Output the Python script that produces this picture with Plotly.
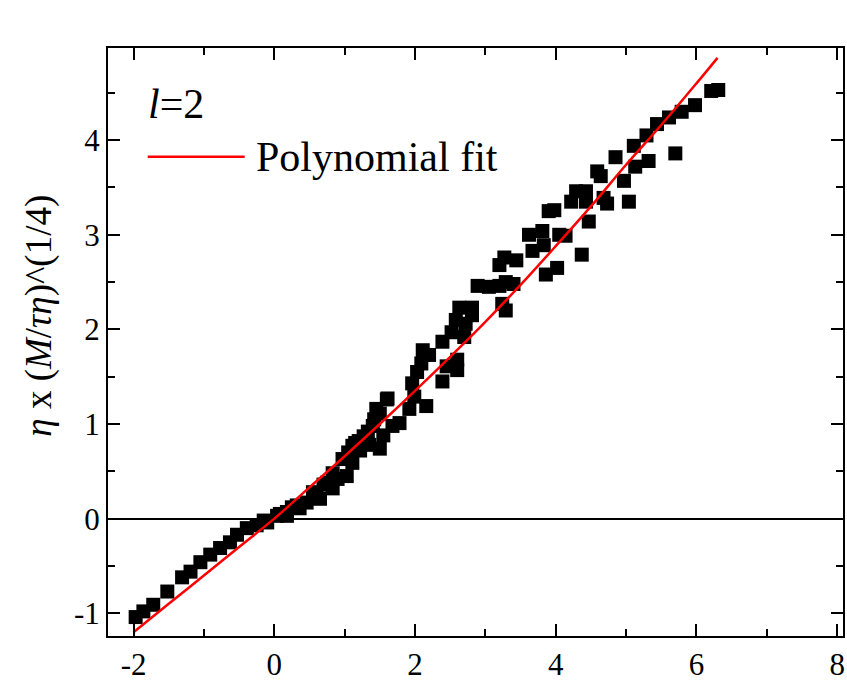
import plotly.graph_objects as go

# Scatter data
data_x = [-1.97, -1.86, -1.72, -1.52, -1.31, -1.19, -1.05, -0.91, -0.77, -0.63,
          -0.53, -0.39, -0.25, -0.10, 0.04, 0.18, 0.18, 0.32, 0.36, 0.46,
          0.60, 0.65, 0.75, 0.83, 0.83, 0.97, 1.03, 1.11, 1.11, 1.40,
          1.50, 1.68, 1.60, 1.45, 1.50, 1.61, 1.78, 1.92, 1.99, 1.96,
          2.09, 2.11, 2.16, 2.39, 2.45, 2.60, 2.60, 2.39, 2.52, 2.58,
          2.63, 2.81, 2.81, 2.70, 2.89, 3.20, 3.29, 3.24, 3.29, 3.20,
          3.27, 3.44, 3.62, 3.81, 3.67, 3.86, 3.90, 3.83, 4.05, 4.14,
          4.02, 4.37, 3.98, 4.22, 4.29, 4.43, 4.43, 4.68, 4.73, 4.47,
          4.59, 4.64, 4.85, 4.97, 5.04, 5.13, 5.11, 5.29, 5.32, 5.44,
          5.61, 5.70, 5.79, 5.98, 6.21, 6.31,
          1.20, 1.27, 1.33, 1.22, 1.35, 0.55, 0.70, 0.90, 2.03, 2.20,
          2.72, 3.05, 3.40, -0.15, 0.08, 0.25, 1.05, 1.15, 1.42, 1.55]
data_y = [-1.04, -0.98, -0.91, -0.77, -0.62, -0.56, -0.46, -0.38, -0.31, -0.25,
          -0.17, -0.10, -0.07, -0.04, 0.03, 0.07, 0.03, 0.14, 0.11, 0.17,
          0.24, 0.21, 0.38, 0.32, 0.48, 0.63, 0.45, 0.77, 0.59, 0.98,
          0.74, 0.98, 1.26, 1.16, 1.11, 1.27, 1.01, 1.16, 1.29, 1.43,
          1.64, 1.78, 1.19, 1.45, 1.61, 1.68, 1.57, 1.87, 1.97, 2.10,
          2.23, 2.23, 2.15, 1.92, 2.46, 2.46, 2.50, 2.27, 2.20, 2.68,
          2.76, 2.73, 3.00, 3.04, 2.83, 2.58, 3.25, 2.89, 3.00, 2.99,
          2.65, 2.79, 3.26, 3.35, 3.46, 3.46, 3.35, 3.39, 3.33, 3.14,
          3.67, 3.62, 3.82, 3.57, 3.35, 3.72, 3.94, 4.05, 3.78, 4.17,
          4.24, 3.86, 4.30, 4.37, 4.52, 4.53,
          0.82, 0.87, 0.92, 0.72, 0.78, 0.28, 0.36, 0.42, 1.55, 1.73,
          2.06, 2.45, 2.48, -0.02, 0.05, 0.12, 0.70, 0.80, 1.05, 0.88]

# Polynomial fit curve
fit_x = [-2.0, -1.5, -1.0, -0.5, 0.0, 0.5, 1.0, 1.5, 2.0, 2.5, 3.0, 3.5, 4.0, 4.5, 5.0, 5.5, 6.0, 6.3]
fit_y = [-1.20, -0.90, -0.60, -0.30, 0.00, 0.33, 0.66, 1.00, 1.35, 1.71, 2.08, 2.47, 2.88, 3.30, 3.74, 4.16, 4.60, 4.87]

# Tick labels
x_tickvals = [-2, 0, 2, 4, 6, 8]
x_ticktext = ["-2", "0", "2", "4", "6", "8"]
y_tickvals = [-1, 0, 1, 2, 3, 4]
y_ticktext = ["-1", "0", "1", "2", "3", "4"]

font_family = "Liberation Serif, Times New Roman, serif"

fig = go.Figure()
fig.add_trace(go.Scatter(
    x=data_x, y=data_y, mode="markers",
    marker=dict(symbol="square", size=14, color="black", line=dict(width=0)),
    showlegend=False))
fig.add_trace(go.Scatter(
    x=fit_x, y=fit_y, mode="lines",
    line=dict(color="red", width=2.5, shape="spline"),
    showlegend=False))

# Legend drawn manually
fig.add_shape(type="line", xref="paper", yref="paper",
              x0=0.054, x1=0.186, y0=0.815, y1=0.815,
              line=dict(color="red", width=2.5))
fig.add_annotation(xref="paper", yref="paper", x=0.198, y=0.815,
                   text="Polynomial fit", showarrow=False, xanchor="left", yanchor="middle",
                   font=dict(family=font_family, size=42, color="black"))
fig.add_annotation(xref="paper", yref="paper", x=0.052, y=0.905,
                   text="<i>l</i>=2", showarrow=False, xanchor="left", yanchor="middle",
                   font=dict(family=font_family, size=42, color="black"))
# Y axis title
fig.add_annotation(xref="paper", yref="paper", x=-0.095, y=0.545,
                   text="<i>η</i> x (<i>M</i>/<i>τη</i>)^(1/4)", showarrow=False,
                   textangle=-90, xanchor="center", yanchor="middle",
                   font=dict(family=font_family, size=37, color="black"))

axis_common = dict(
    showline=True, linecolor="black", linewidth=2, mirror="allticks",
    ticks="inside", ticklen=12, tickwidth=2, tickcolor="black",
    showgrid=False,
    tickfont=dict(family=font_family, size=31, color="black"),
)

fig.update_xaxes(range=[-2.363, 8.083], tickmode="array",
                 tickvals=x_tickvals, ticktext=x_ticktext,
                 zeroline=False,
                 minor=dict(ticks="inside", ticklen=7, tickwidth=2, tickcolor="black", dtick=1, tick0=-2, showgrid=False),
                 **axis_common)
fig.update_yaxes(range=[-1.240, 4.974], tickmode="array",
                 tickvals=y_tickvals, ticktext=y_ticktext,
                 zeroline=True, zerolinecolor="black", zerolinewidth=2.2,
                 minor=dict(ticks="inside", ticklen=7, tickwidth=2, tickcolor="black", dtick=0.5, tick0=0, showgrid=False),
                 **axis_common)

fig.update_layout(
    width=847, height=684,
    margin=dict(l=108, r=2, t=48, b=42),
    paper_bgcolor="white", plot_bgcolor="white",
    font=dict(family=font_family, color="black"),
)

fig.write_html("out.html")
